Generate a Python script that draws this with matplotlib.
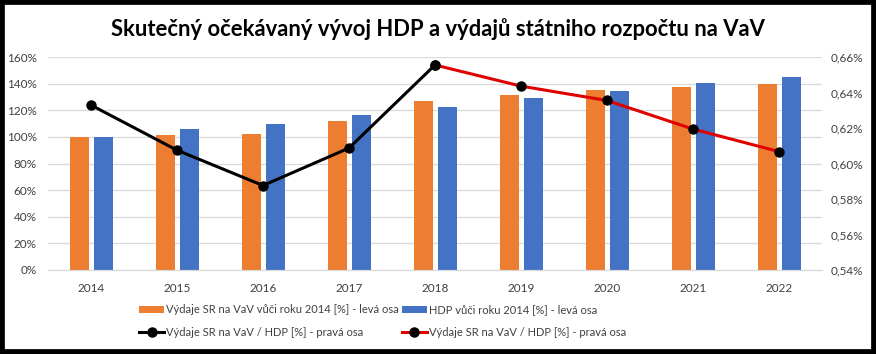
import matplotlib
matplotlib.use('Agg')
import matplotlib.pyplot as plt
from matplotlib.patches import Rectangle
from matplotlib.ticker import FuncFormatter
import numpy as np

plt.rcParams['font.family'] = ['Lato', 'DejaVu Sans']

# Data
years = ['2014', '2015', '2016', '2017', '2018', '2019', '2020', '2021', '2022']
vydaje_idx = [100, 101.6, 102.3, 112.1, 127.2, 131.7, 135.4, 137.2, 139.5]
hdp_idx = [100, 106.1, 109.8, 116.6, 122.6, 129.4, 134.7, 140.2, 145.2]
podiel_skut = [0.6329, 0.6075, 0.5876, 0.6087, 0.6555]
podiel_ocak = [0.6555, 0.6436, 0.6355, 0.6194, 0.6067]

orange = '#ED7D31'
blue = '#4472C4'

fig = plt.figure(figsize=(8.76, 3.54), dpi=100)
ax = fig.add_axes([48 / 876, 1 - 270 / 354, (822 - 48) / 876, (270 - 57) / 354])
ax2 = ax.twinx()

x = np.arange(len(years))
w = 0.23
b1 = ax.bar(x - 0.135, vydaje_idx, w, color=orange, zorder=2,
            label='Výdaje SR na VaV vůči roku 2014 [%] - levá osa')
b2 = ax.bar(x + 0.145, hdp_idx, w, color=blue, zorder=2,
            label='HDP vůči roku 2014 [%] - levá osa')

l1, = ax2.plot(x[:5], podiel_skut, '-o', color='black', lw=2.2, ms=6.5,
               markerfacecolor='black', markeredgecolor='black',
               label='Výdaje SR na VaV / HDP [%] - pravá osa')
l2, = ax2.plot(x[4:], podiel_ocak, '-o', color='#E00000', lw=2.2, ms=6.5,
               markerfacecolor='black', markeredgecolor='black',
               label='Výdaje SR na VaV / HDP [%] - pravá osa')

ax.set_xlim(-0.5, len(years) - 0.5)
ax.set_ylim(0, 160)
ax.set_yticks(range(0, 161, 20))
ax.yaxis.set_major_formatter(FuncFormatter(lambda v, p: f'{v:.0f}%'))
ax2.set_ylim(0.54, 0.66)
ax2.set_yticks(np.arange(0.54, 0.661, 0.02))
ax2.yaxis.set_major_formatter(FuncFormatter(lambda v, p: f'{v:.2f}%'.replace('.', ',')))
ax.set_xticks(x)
ax.set_xticklabels(years)

ax.grid(axis='y', color='#D9D9D9', lw=0.9, zorder=0)
for a in (ax, ax2):
    for s in ('top', 'left', 'right'):
        a.spines[s].set_visible(False)
    a.spines['bottom'].set_color('#D9D9D9')
    a.tick_params(length=0, labelsize=8.5, colors='#404040')
ax.tick_params(axis='x', pad=9)
ax.tick_params(axis='y', pad=8)
ax2.tick_params(axis='y', pad=6)

fig.suptitle('Skutečný očekávaný vývoj HDP a výdajů státniho rozpočtu na VaV',
             fontsize=15.8, fontweight='bold', y=0.95)

fig.legend(handles=[b1[0], l1, b2[0], l2], labels=[b1.get_label(), l1.get_label(), b2.get_label(), l2.get_label()],
           ncol=2, loc='center', bbox_to_anchor=(0.437, 1 - 321 / 354), frameon=False,
           fontsize=8, handlelength=2.2, handletextpad=0.2, columnspacing=0.3,
           labelspacing=1.0, labelcolor='#404040')

fig.patches.append(Rectangle((0, 0), 1, 1, transform=fig.transFigure, fill=False,
                             edgecolor='black', lw=7, zorder=10))

fig.savefig('out.png', dpi=100)
